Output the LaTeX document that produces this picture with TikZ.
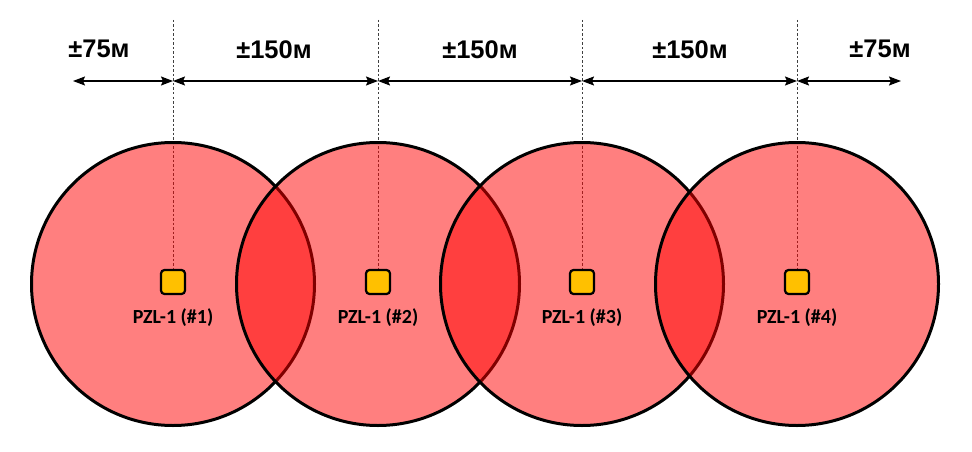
\documentclass[tikz,border=0pt]{standalone}
\usepackage{fontspec}
\usepackage{tikz}
\usetikzlibrary{arrows.meta,positioning,calc}
\setmainfont{Liberation Sans}
\newfontfamily\pzlfont{Carlito}
\definecolor{zonered}{HTML}{FF0000}
\definecolor{pzlgold}{HTML}{FFC000}
\definecolor{guidegray}{HTML}{404040}

\begin{document}
\begin{tikzpicture}[x=1pt, y=-1pt,
    zone/.style={circle, draw=black, fill=zonered, fill opacity=0.5, draw opacity=1,
                 line width=3pt, minimum size=283pt, inner sep=0pt},
    sensor/.style={rectangle, draw=black, fill=pzlgold, line width=2.2pt,
                   rounded corners=3.5pt, minimum size=24pt, inner sep=0pt},
    sensorlabel/.style={font=\pzlfont\bfseries\fontsize{20}{20}\selectfont, text=black},
    span/.style={font=\bfseries\fontsize{25.5}{25.5}\selectfont, text=black},
    guide/.style={draw=guidegray, line width=0.8pt, dash pattern=on 2.5pt off 2pt},
    dimension/.style={{Stealth[length=12pt,width=9pt,inset=2pt]}-{Stealth[length=12pt,width=9pt,inset=2pt]},
                      line width=1.5pt, color=black}
]
    \useasboundingbox (0,0) rectangle (972,452);

    % Guide line tops
    \coordinate (top1) at (173,20);
    \coordinate (top2) at (378,20);
    \coordinate (top3) at (582,20);
    \coordinate (top4) at (797,20);

    % Sensors
    \coordinate (p1) at (173,282);
    \coordinate (p2) at (378,282);
    \coordinate (p3) at (582,282);
    \coordinate (p4) at (797,282);

    % Guide lines (behind the zones)
    \draw[guide] (top1) -- ($(p1)+(0,-13)$);
    \draw[guide] (top2) -- ($(p2)+(0,-13)$);
    \draw[guide] (top3) -- ($(p3)+(0,-13)$);
    \draw[guide] (top4) -- ($(p4)+(0,-13)$);

    % Coverage zones
    \node[zone] (zone1) at (173,284) {};
    \node[zone] (zone2) at (378,284) {};
    \node[zone] (zone3) at (582,284) {};
    \node[zone] (zone4) at (797,284) {};

    % Sensor boxes
    \node[sensor] (pzl1) at (p1) {};
    \node[sensor] (pzl2) at (p2) {};
    \node[sensor] (pzl3) at (p3) {};
    \node[sensor] (pzl4) at (p4) {};

    % Sensor labels
    \node[sensorlabel, below=10pt of pzl1] (lab1) {PZL-1 (\#1)};
    \node[sensorlabel, below=10pt of pzl2] (lab2) {PZL-1 (\#2)};
    \node[sensorlabel, below=10pt of pzl3] (lab3) {PZL-1 (\#3)};
    \node[sensorlabel, below=10pt of pzl4] (lab4) {PZL-1 (\#4)};

    % Dimension points
    \coordinate (d0) at (73,81);
    \coordinate (d1) at (173,81);
    \coordinate (d2) at (378,81);
    \coordinate (d3) at (582,81);
    \coordinate (d4) at (797,81);
    \coordinate (d5) at (901,81);

    % Dimensions
    \draw[dimension] (d0) -- (d1);
    \draw[dimension] (d1) -- (d2);
    \draw[dimension] (d2) -- (d3);
    \draw[dimension] (d3) -- (d4);
    \draw[dimension] (d4) -- (d5);

    % Labels
    \node[span] (span1) at (99,49) {±75м};
    \node[span] (span2) at (274,50) {±150м};
    \node[span] (span3) at (480,50) {±150м};
    \node[span] (span4) at (690,50) {±150м};
    \node[span] (span5) at (880,49) {±75м};
\end{tikzpicture}
\end{document}
